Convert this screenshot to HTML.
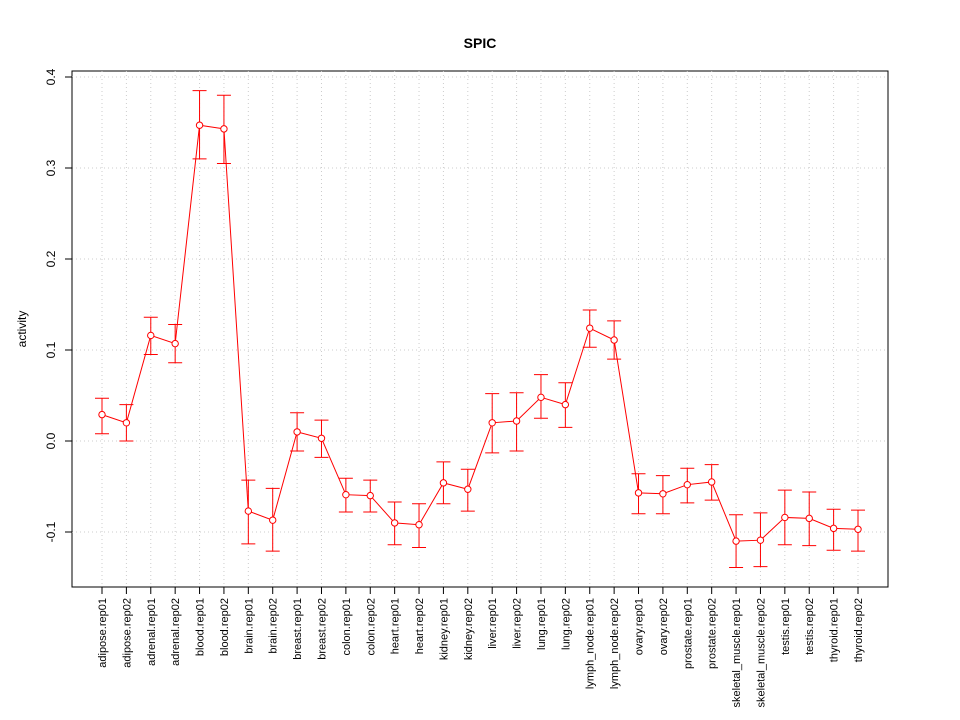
<!DOCTYPE html>
<html><head><meta charset="utf-8"><style>
html,body{margin:0;padding:0;background:#fff;}
svg{display:block;font-family:"Liberation Sans",Arial,sans-serif;}
</style></head><body>
<svg id="chart" width="960" height="720">
<text x="480" y="48" text-anchor="middle" font-size="14" font-weight="bold">SPIC</text>
<rect x="72" y="71" width="816" height="516" fill="none" stroke="#000"/>
<text transform="translate(26,329) rotate(-90)" text-anchor="middle" font-size="12">activity</text>
<g id="grid"></g><g id="axes"></g><g id="marks"></g>
</svg>
<script>
const categories=["adipose.rep01","adipose.rep02","adrenal.rep01","adrenal.rep02","blood.rep01","blood.rep02","brain.rep01","brain.rep02","breast.rep01","breast.rep02","colon.rep01","colon.rep02","heart.rep01","heart.rep02","kidney.rep01","kidney.rep02","liver.rep01","liver.rep02","lung.rep01","lung.rep02","lymph_node.rep01","lymph_node.rep02","ovary.rep01","ovary.rep02","prostate.rep01","prostate.rep02","skeletal_muscle.rep01","skeletal_muscle.rep02","testis.rep01","testis.rep02","thyroid.rep01","thyroid.rep02"];
const values=[0.029,0.020,0.116,0.107,0.347,0.343,-0.077,-0.087,0.010,0.003,-0.059,-0.060,-0.090,-0.092,-0.046,-0.053,0.020,0.022,0.048,0.040,0.124,0.111,-0.057,-0.058,-0.048,-0.045,-0.110,-0.109,-0.084,-0.085,-0.096,-0.097];
const upper=[0.047,0.040,0.136,0.128,0.385,0.380,-0.043,-0.052,0.031,0.023,-0.041,-0.043,-0.067,-0.069,-0.023,-0.031,0.052,0.053,0.073,0.064,0.144,0.132,-0.036,-0.038,-0.030,-0.026,-0.081,-0.079,-0.054,-0.056,-0.075,-0.076];
const lower=[0.008,0.000,0.095,0.086,0.310,0.305,-0.113,-0.121,-0.011,-0.018,-0.078,-0.078,-0.114,-0.117,-0.069,-0.077,-0.013,-0.011,0.025,0.015,0.103,0.090,-0.080,-0.080,-0.068,-0.065,-0.139,-0.138,-0.114,-0.115,-0.120,-0.121];
const yTicks=[-0.1,0.0,0.1,0.2,0.3,0.4];
const yTickLabels=["-0.1","0.0","0.1","0.2","0.3","0.4"];

const NS="http://www.w3.org/2000/svg";
const xS=i=>102+i*(858-102)/(categories.length-1);
const yS=v=>441-v*910;
function mk(tag,attrs,parent){const e=document.createElementNS(NS,tag);for(const k in attrs)e.setAttribute(k,attrs[k]);parent.appendChild(e);return e;}
const grid=document.getElementById('grid'),axes=document.getElementById('axes'),marks=document.getElementById('marks');

categories.forEach((c,i)=>{
  const g=mk('line',{x1:xS(i),x2:xS(i),y1:71,y2:587,stroke:'#ccc','stroke-dasharray':'1,3'},grid);
  
  
  const t=mk('line',{x1:xS(i),x2:xS(i),y1:587,y2:594,stroke:'#000'},axes);
  
  
  const l=mk('text',{transform:`translate(${xS(i)+4},598) rotate(-90)`,'text-anchor':'end','font-size':'11'},axes);
  l.textContent=c;
  
  
});
mk('line',{x1:xS(0),x2:xS(categories.length-1),y1:587,y2:587,stroke:'#000'},axes);
yTicks.forEach((v,i)=>{
  const g=mk('line',{x1:72,x2:888,y1:yS(v),y2:yS(v),stroke:'#ccc','stroke-dasharray':'1,3'},grid);
  
  
  const t=mk('line',{x1:65,x2:72,y1:yS(v),y2:yS(v),stroke:'#000'},axes);
  
  
  const l=mk('text',{transform:`translate(55,${yS(v)}) rotate(-90)`,'text-anchor':'middle','font-size':'12'},axes);
  l.textContent=yTickLabels[i];
  
  
});
mk('line',{x1:72,x2:72,y1:yS(0.4),y2:yS(-0.1),stroke:'#000'},axes);

const pts=values.map((v,i)=>xS(i)+','+yS(v)).join(' ');
const line=mk('polyline',{points:pts,fill:'none',stroke:'#ff0000','stroke-width':1},marks);


values.forEach((v,i)=>{
  const x=xS(i);
  const eb=mk('path',{d:`M${x},${yS(lower[i])}V${yS(upper[i])}M${x-7},${yS(lower[i])}H${x+7}M${x-7},${yS(upper[i])}H${x+7}`,stroke:'#ff0000',fill:'none'},marks);
  
  
  const c=mk('circle',{cx:x,cy:yS(v),r:3.2,fill:'#fff',stroke:'#ff0000'},marks);
  
  
});
</script>
</body></html>
